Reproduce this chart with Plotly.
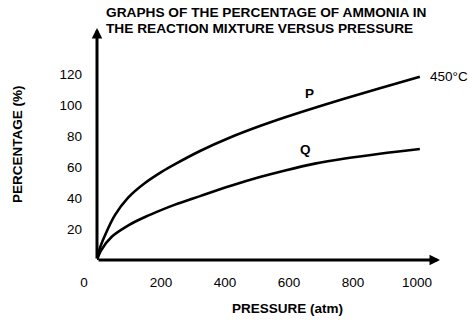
import plotly.graph_objects as go

# ---- data ----
p_x = [0, 8, 23, 56, 98, 150, 202, 244, 322, 416, 509, 588, 681, 775, 884, 1009]
p_y = [0, 7, 15, 29, 40.5, 49.8, 57, 62, 70.5, 79.2, 86.6, 92.3, 98.5, 104.4, 111, 118.5]
q_x = [0, 12, 46, 98, 150, 202, 244, 322, 416, 509, 588, 681, 775, 884, 1009]
q_y = [0, 6, 15, 22.4, 27.8, 32.4, 35.8, 41.3, 47.8, 53.6, 57.9, 62.3, 65.6, 68.7, 71.8]

x_ticks = [0, 200, 400, 600, 800, 1000]
x_ticktext = ["0" + "\u00a0" * 7, "200", "400", "600", "800", "1000"]
y_ticks = [20, 40, 60, 80, 100, 120]

title_lines = ["GRAPHS OF THE PERCENTAGE OF AMMONIA IN",
               "THE REACTION MIXTURE VERSUS PRESSURE"]
x_title = "PRESSURE (atm)"
y_title = "PERCENTAGE (%)"

W, H = 475, 321
L, R, T, B = 97, 35, 28, 61
XMAX, YMAX = 1072, 150
FONT = "Liberation Sans, Arial, sans-serif"

pw, ph = W - L - R, H - T - B

def px_to_paper(px, py):
    return (px - L) / pw, (H - B - py) / ph

fig = go.Figure()
line_style = dict(color="black", width=2.6, shape="spline", smoothing=1.0)
fig.add_trace(go.Scatter(x=p_x, y=p_y, mode="lines", line=line_style,
                         showlegend=False, hoverinfo="skip"))
fig.add_trace(go.Scatter(x=q_x, y=q_y, mode="lines", line=line_style,
                         showlegend=False, hoverinfo="skip"))

ann = []
# axis arrows
ann.append(dict(x=XMAX, y=0, ax=0, ay=0, xref="x", yref="y", axref="x", ayref="y",
                text="", showarrow=True, arrowhead=2, arrowsize=0.7, arrowwidth=3,
                arrowcolor="black", standoff=0))
ann.append(dict(x=0, y=YMAX, ax=0, ay=0, xref="x", yref="y", axref="x", ayref="y",
                text="", showarrow=True, arrowhead=2, arrowsize=0.7, arrowwidth=3,
                arrowcolor="black", standoff=0))

# title lines
for line, py in zip(title_lines, [13, 28.5]):
    xp, yp = px_to_paper(104, py)
    ann.append(dict(x=xp, y=yp, xref="paper", yref="paper", text="<b>%s</b>" % line,
                    showarrow=False, xanchor="left", yanchor="middle",
                    font=dict(family=FONT, size=13.7, color="black")))

# axis titles
xp, yp = px_to_paper(287, 308)
ann.append(dict(x=xp, y=yp, xref="paper", yref="paper", text="<b>%s</b>" % x_title,
                showarrow=False, xanchor="center", yanchor="middle",
                font=dict(family=FONT, size=13.5, color="black")))
xp, yp = px_to_paper(17, 144)
ann.append(dict(x=xp, y=yp, xref="paper", yref="paper", text="<b>%s</b>" % y_title,
                showarrow=False, xanchor="center", yanchor="middle", textangle=-90,
                font=dict(family=FONT, size=13.5, color="black")))

# curve labels
for txt, (cx, cy), bold in [("P", (309, 93), True), ("Q", (305.5, 149), True),
                            ("450°C", (449, 76.5), False)]:
    xp, yp = px_to_paper(cx, cy)
    ann.append(dict(x=xp, y=yp, xref="paper", yref="paper",
                    text=("<b>%s</b>" % txt) if bold else txt,
                    showarrow=False, xanchor="center", yanchor="middle",
                    font=dict(family=FONT, size=13.5, color="black")))

fig.update_layout(
    width=W, height=H,
    margin=dict(l=L, r=R, t=T, b=B, pad=0),
    paper_bgcolor="white", plot_bgcolor="white",
    annotations=ann,
    xaxis=dict(range=[0, XMAX], tickvals=x_ticks, ticktext=x_ticktext,
               showgrid=False, zeroline=False, showline=False, ticks="",
               ticklabelstandoff=12,
               tickfont=dict(family=FONT, size=13.5, color="black"), fixedrange=True),
    yaxis=dict(range=[0, YMAX], tickvals=y_ticks,
               showgrid=False, zeroline=False, showline=False, ticks="",
               ticklabelstandoff=14,
               tickfont=dict(family=FONT, size=13.5, color="black"), fixedrange=True),
)

fig.write_html("out.html", config={"displayModeBar": False})
